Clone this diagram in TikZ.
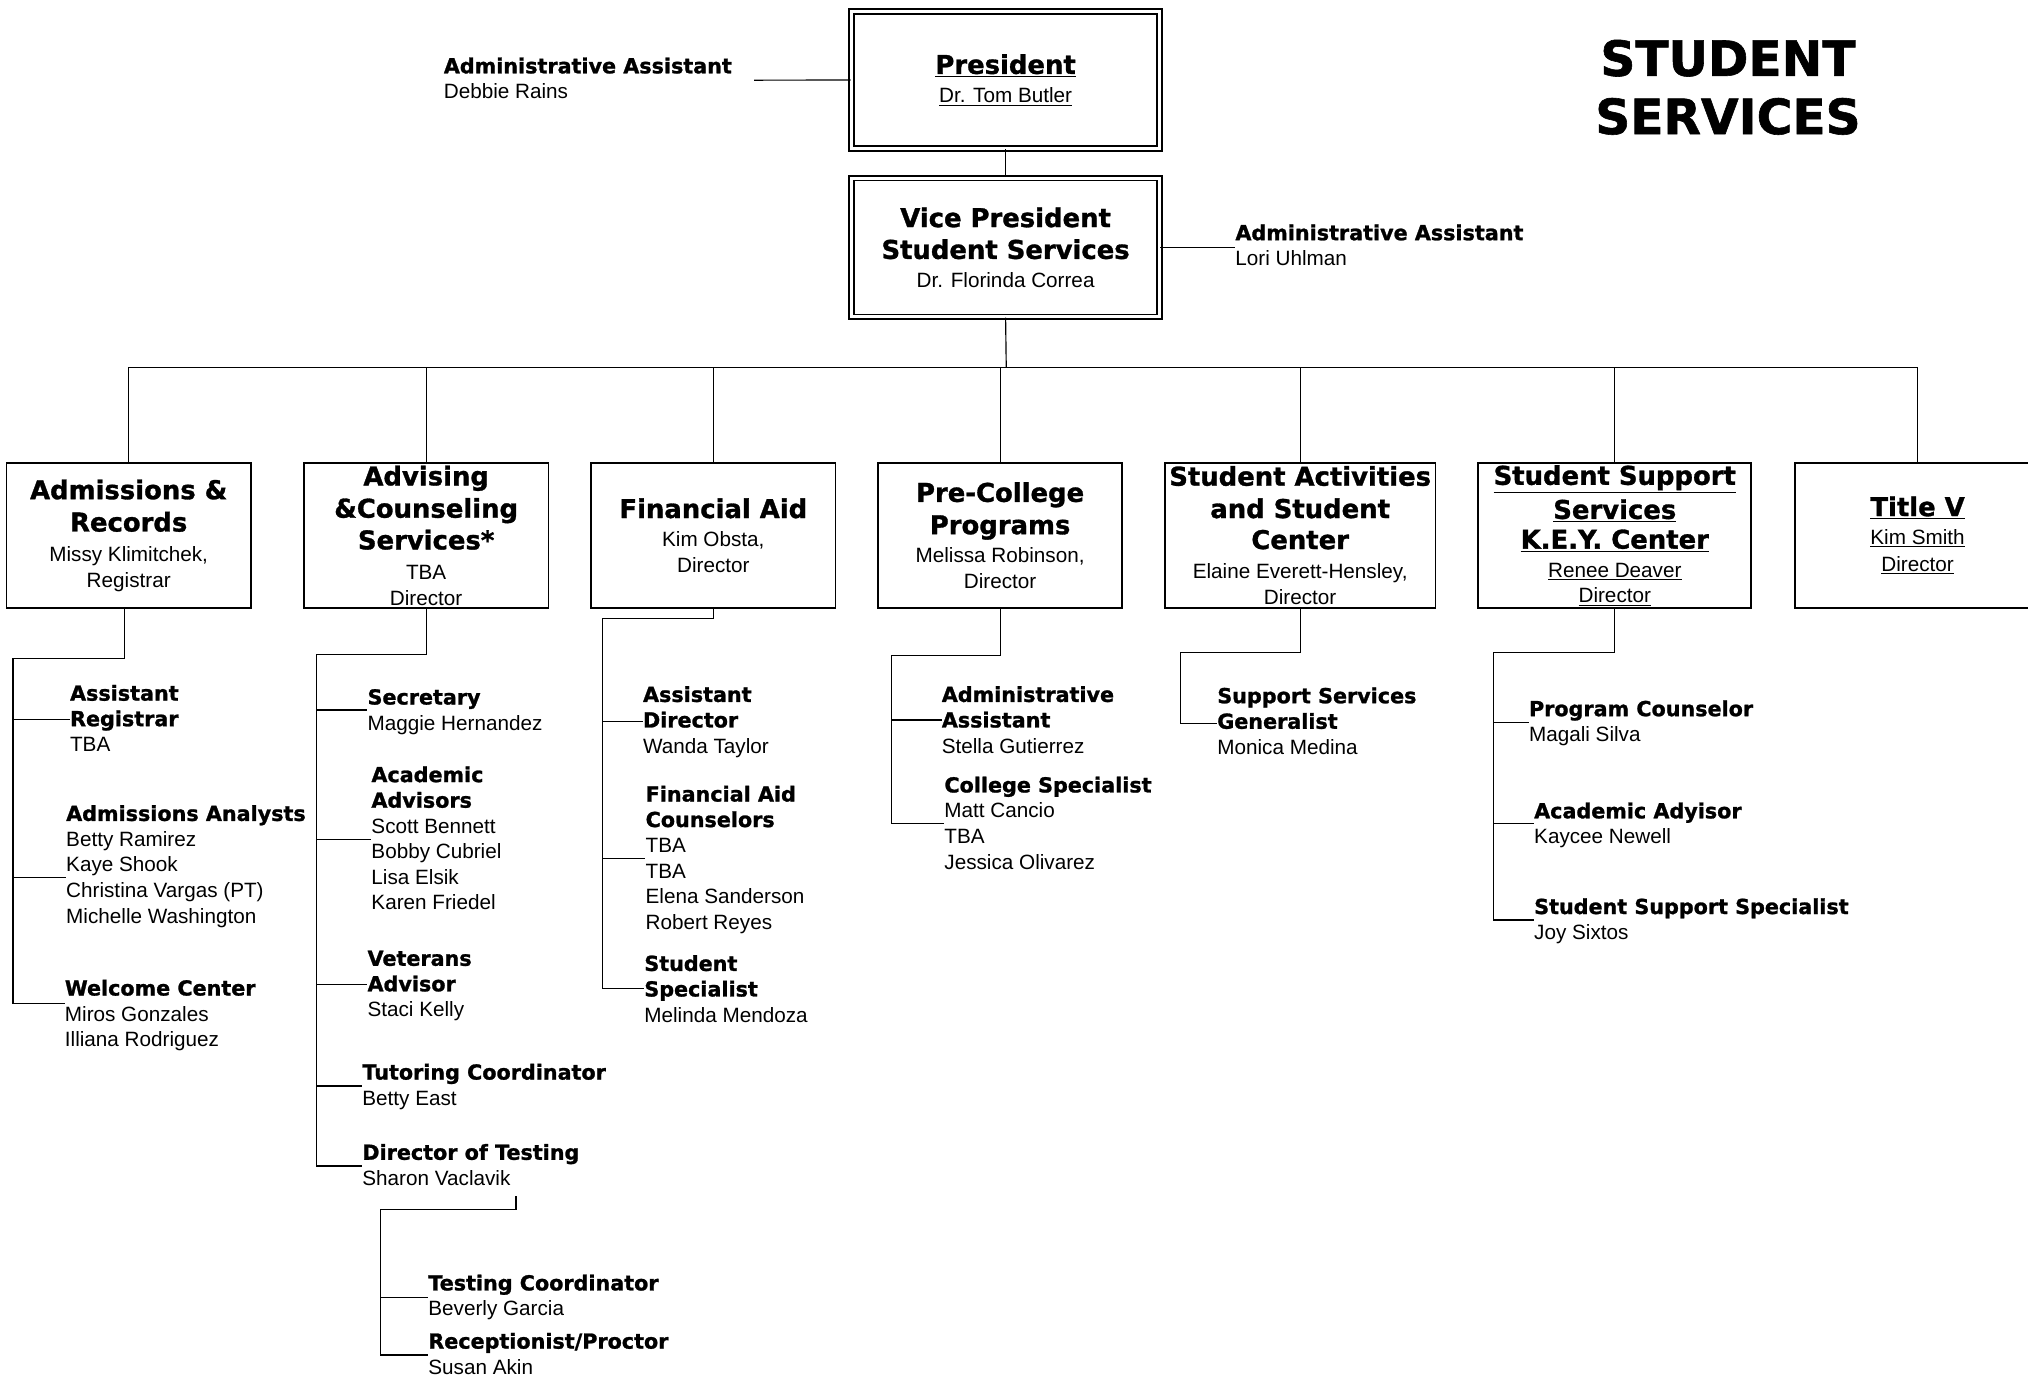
\documentclass[tikz,border=0pt]{standalone}
\usepackage{fontspec}
\setmainfont{Liberation Sans}
\newfontfamily\hbf{DejaVu Sans}[BoldFeatures={FakeBold=1.2}]
\newcommand{\B}[1]{{\hbf\bfseries #1}}
\newcommand{\Hd}[1]{{\hbf\bfseries\fontsize{20}{24}\selectfont #1}}
\newcommand{\U}[1]{\underline{#1}}
\newcommand{\st}{\rule{0pt}{14pt}}
\begin{document}
\begin{tikzpicture}[x=1pt,y=-1pt,
  conn/.style={line width=0.9pt},
  dept/.style={draw, line width=1.3pt, minimum width=189pt, minimum height=112pt,
    align=center, inner sep=0pt, font=\fontsize{16}{20}\selectfont},
  dbox/.style={draw, double, line width=1.5pt, double distance=2pt, minimum width=238pt,
    align=center, inner sep=0pt, font=\fontsize{16}{20}\selectfont},
  blk/.style={anchor=north west, inner sep=0pt, align=left, font=\fontsize{16}{19.75}\selectfont}]
\fill[white] (0,0) rectangle (1568,1064.6);
\useasboundingbox (0,0) rectangle (1568,1064.6);

% title
\node[font=\hbf\bfseries\fontsize{37.6}{45}\selectfont, align=center, inner sep=0pt] (title) at (1336,67.5) {STUDENT\\SERVICES};

% top boxes
\node[dbox, minimum height=105.9pt] (pres) at (777.5,61.85) {\Hd{\U{President}}\\[2.5pt]\U{Dr. Tom Butler}};
\node[dbox, minimum height=107.1pt] (vp) at (777.5,191.35) {\Hd{Vice President}\\[4.6pt]\Hd{Student Services}\\[2pt]Dr. Florinda Correa};

\node[blk] (aa1) at (343,42.5) {\st\B{Administrative Assistant}\\Debbie Rains};
\node[blk] (aa2) at (955,171.5) {\st\B{Administrative Assistant}\\Lori Uhlman};
\coordinate (aa1c) at (583,62);
\draw[conn] (pres.west) -- (aa1c);
\draw[conn] (vp.east) -- (vp.east -| aa2.west);
\draw[conn] (pres.south) -- (vp.north);

% department boxes
\node[dept] (adm) at (99.5,414) {\Hd{Admissions \&}\\[5pt]\Hd{Records}\\[3pt]Missy Klimitchek,\\Registrar};
\node[dept] (adv) at (329.5,414) {\Hd{Advising}\\[5pt]\Hd{\&Counseling}\\[4.5pt]\Hd{Services*}\\[3pt]TBA\\Director};
\node[dept] (fa) at (551.5,414) {\Hd{Financial Aid}\\[2pt]Kim Obsta,\\Director};
\node[dept, minimum width=188.5pt] (pc) at (773.25,414) {\Hd{Pre-College}\\[5pt]\Hd{Programs}\\[2pt]Melissa Robinson,\\Director};
\node[dept, minimum width=209.5pt] (sa) at (1005.25,414) {\Hd{Student Activities}\\[5pt]\Hd{and Student}\\[4pt]\Hd{Center}\\[3pt]Elaine Everett-Hensley,\\Director};
\node[dept, minimum width=211pt] (ss) at (1248.5,414) {\Hd{\U{Student Support}}\\[4pt]\Hd{\U{Services}}\\[3pt]\Hd{\U{K.E.Y. Center}}\\[2pt]\U{Renee Deaver}\\\U{Director}};
\node[dept, minimum width=190pt] (tv) at (1482.6,414) {\Hd{\U{Title V}}\\[2pt]\U{Kim Smith}\\[1pt]\U{Director}};

% bus
\coordinate (bus) at (778,284);
\draw[conn] (vp.south) -- (bus);
\draw[conn] (adm.north) -- (adm.north |- bus) -- (tv.north |- bus) -- (tv.north);
\foreach \n in {adv,fa,pc,sa,ss} \draw[conn] (\n.north) -- (\n.north |- bus);

% Admissions subtree
\node[blk] (ar) at (54,527.5) {\st\B{Assistant}\\\B{Registrar}\\TBA};
\node[blk] (aan) at (51,620.5) {\st\B{Admissions Analysts}\\Betty Ramirez\\Kaye Shook\\Christina Vargas (PT)\\Michelle Washington};
\node[blk] (wc) at (50,755.5) {\st\B{Welcome Center}\\Miros Gonzales\\Illiana Rodriguez};
\draw[conn] ([xshift=-3.5pt]adm.south) -- (96,509) -- (10,509) -- (10,775.7) -- (wc.west |- 0,775.7);
\draw[conn] (10,556) -- (ar.west |- 0,556);
\draw[conn] (10,678.6) -- (aan.west |- 0,678.6);

% Advising subtree
\node[blk] (sec) at (284,530.5) {\st\B{Secretary}\\Maggie Hernandez};
\node[blk] (acad) at (287,590.5) {\st\B{Academic}\\\B{Advisors}\\Scott Bennett\\Bobby Cubriel\\Lisa Elsik\\Karen Friedel};
\node[blk] (vet) at (284,732.5) {\st\B{Veterans}\\\B{Advisor}\\Staci Kelly};
\node[blk] (tut) at (280,820.5) {\st\B{Tutoring Coordinator}\\Betty East};
\node[blk] (dot) at (280,882.5) {\st\B{Director of Testing}\\Sharon Vaclavik};
\draw[conn] (adv.south) -- (adv.south |- 0,506) -- (245,506) -- (245,901.5) -- (dot.west |- 0,901.5);
\draw[conn] (245,549) -- (sec.west |- 0,549);
\draw[conn] (245,649) -- (acad.west |- 0,649);
\draw[conn] (245,761) -- (vet.west |- 0,761);
\draw[conn] (245,839.7) -- (tut.west |- 0,839.7);

% Testing subtree
\node[blk] (tc) at (331,983.5) {\st\B{Testing Coordinator}\\Beverly Garcia};
\node[blk] (rp) at (331,1028.5) {\st\B{Receptionist/Proctor}\\Susan Akin};
\coordinate (tst) at (399,925);
\draw[conn] (tst) -- (399,935) -- (294.5,935) -- (294.5,1047.6) -- (rp.west |- 0,1047.6);
\draw[conn] (294.5,1003) -- (tc.west |- 0,1003);

% Financial Aid subtree
\node[blk] (ad) at (497,528.5) {\st\B{Assistant}\\\B{Director}\\Wanda Taylor};
\node[blk] (fac) at (499,605.5) {\st\B{Financial Aid}\\\B{Counselors}\\TBA\\TBA\\Elena Sanderson\\Robert Reyes};
\node[blk] (ssp) at (498,736.5) {\st\B{Student}\\\B{Specialist}\\Melinda Mendoza};
\draw[conn] (fa.south) -- (fa.south |- 0,478) -- (465.7,478) -- (465.7,764) -- (ssp.west |- 0,764);
\draw[conn] (465.7,558) -- (ad.west |- 0,558);
\draw[conn] (465.7,663.6) -- (fac.west |- 0,663.6);

% Pre-College subtree
\node[blk] (pa) at (728,528.5) {\st\B{Administrative}\\\B{Assistant}\\Stella Gutierrez};
\node[blk] (cs) at (730,598.5) {\st\B{College Specialist}\\Matt Cancio\\TBA\\Jessica Olivarez};
\draw[conn] (pc.south) -- (pc.south |- 0,507) -- (689,507) -- (689,637) -- (cs.west |- 0,637);
\draw[conn] (689,556.7) -- (pa.west |- 0,556.7);

% Student Activities subtree
\node[blk] (ssg) at (941,529.5) {\st\B{Support Services}\\\B{Generalist}\\Monica Medina};
\draw[conn] (sa.south) -- (sa.south |- 0,504.4) -- (912.8,504.4) -- (912.8,559.3) -- (ssg.west |- 0,559.3);

% Student Support subtree
\node[blk] (pcn) at (1182,539.5) {\st\B{Program Counselor}\\Magali Silva};
\node[blk] (aad) at (1186,618.5) {\st\B{Academic Adyisor}\\Kaycee Newell};
\node[blk] (sss) at (1186,692.5) {\st\B{Student Support Specialist}\\Joy Sixtos};
\draw[conn] (ss.south) -- (ss.south |- 0,504.4) -- (1154.7,504.4) -- (1154.7,711.3) -- (sss.west |- 0,711.3);
\draw[conn] (1154.7,558.7) -- (pcn.west |- 0,558.7);
\draw[conn] (1154.7,637) -- (aad.west |- 0,637);
\end{tikzpicture}
\end{document}
